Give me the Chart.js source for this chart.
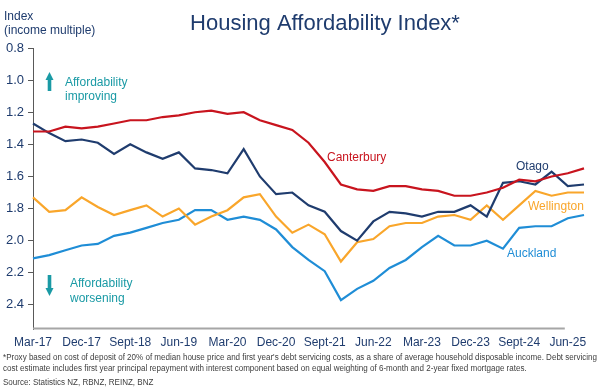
<!DOCTYPE html>
<html>
<head>
<meta charset="utf-8">
<script src="https://cdn.jsdelivr.net/npm/chart.js@4.4.1/dist/chart.umd.min.js"></script>
<style>
  html, body { margin: 0; padding: 0; background: #fff; }
  #wrap { position: relative; width: 600px; height: 391px; }
</style>
</head>
<body>
<div id="wrap"><canvas id="hai" width="600" height="391"></canvas></div>
<script>
const quarters = [
  "Mar-17", "Jun-17", "Sept-17", "Dec-17", "Mar-18", "Jun-18", "Sept-18", "Dec-18",
  "Mar-19", "Jun-19", "Sept-19", "Dec-19", "Mar-20", "Jun-20", "Sept-20", "Dec-20",
  "Mar-21", "Jun-21", "Sept-21", "Dec-21", "Mar-22", "Jun-22", "Sept-22", "Dec-22",
  "Mar-23", "Jun-23", "Sept-23", "Dec-23", "Mar-24", "Jun-24", "Sept-24", "Dec-24",
  "Mar-25", "Jun-25", "Sept-25"
];

const canterbury = [1.32, 1.32, 1.29, 1.30, 1.29, 1.27, 1.25, 1.25, 1.23, 1.22, 1.20, 1.19,
  1.21, 1.20, 1.25, 1.28, 1.31, 1.39, 1.51, 1.65, 1.68, 1.69, 1.66, 1.66,
  1.68, 1.69, 1.72, 1.72, 1.70, 1.67, 1.62, 1.63, 1.60, 1.58, 1.55];

const otago = [1.27, 1.33, 1.38, 1.37, 1.39, 1.46, 1.40, 1.45, 1.49, 1.45, 1.55, 1.56,
  1.58, 1.43, 1.60, 1.71, 1.70, 1.78, 1.82, 1.94, 2.00, 1.88, 1.82, 1.83,
  1.85, 1.82, 1.82, 1.78, 1.85, 1.64, 1.63, 1.65, 1.57, 1.66, 1.65];

const wellington = [1.73, 1.82, 1.81, 1.73, 1.79, 1.84, 1.81, 1.78, 1.85, 1.80, 1.90, 1.85,
  1.81, 1.73, 1.71, 1.85, 1.95, 1.90, 1.96, 2.13, 2.01, 1.99, 1.91, 1.89,
  1.89, 1.85, 1.84, 1.87, 1.78, 1.87, 1.78, 1.69, 1.72, 1.70, 1.70];

const auckland = [2.11, 2.09, 2.06, 2.03, 2.02, 1.97, 1.95, 1.92, 1.89, 1.87, 1.81, 1.81,
  1.87, 1.85, 1.87, 1.93, 2.04, 2.12, 2.19, 2.37, 2.30, 2.25, 2.17, 2.12,
  2.04, 1.97, 2.03, 2.03, 2.00, 2.05, 1.92, 1.91, 1.91, 1.86, 1.84];

const yTicks = [0.8, 1.0, 1.2, 1.4, 1.6, 1.8, 2.0, 2.2, 2.4];

const NAVY = "#1f3c6e";
const TEAL = "#1a9aa5";
const FONT = "'Liberation Sans', Arial, sans-serif";

const footnotes = [
  "*Proxy based on cost of deposit of 20% of median house price and first year's debt servicing costs, as a share of average household disposable income. Debt servicing",
  "cost estimate includes first year principal repayment with interest component based on equal weighting of 6-month and 2-year fixed mortgage rates.",
  "Source: Statistics NZ, RBNZ, REINZ, BNZ"
];

function series(label, data, color) {
  return {
    label,
    data,
    borderColor: color,
    backgroundColor: color,
    borderWidth: 2.2,
    pointRadius: 0,
    tension: 0,
    fill: false,
  };
}

function drawArrow(ctx, x, tipY, tailY) {
  const dir = tailY > tipY ? 1 : -1;
  const headLen = 8;
  ctx.beginPath();
  ctx.moveTo(x, tipY);
  ctx.lineTo(x + 4, tipY + dir * headLen);
  ctx.lineTo(x + 1.8, tipY + dir * headLen);
  ctx.lineTo(x + 1.8, tailY);
  ctx.lineTo(x - 1.8, tailY);
  ctx.lineTo(x - 1.8, tipY + dir * headLen);
  ctx.lineTo(x - 4, tipY + dir * headLen);
  ctx.closePath();
  ctx.fill();
}

/* titles, notes, inline series labels and the short x axis line */
const textPlugin = {
  id: "chartText",
  afterDraw(chart) {
    const ctx = chart.ctx;
    const area = chart.chartArea;
    const xs = chart.scales.x;
    ctx.save();

    ctx.strokeStyle = "#a6a6a6";
    ctx.lineWidth = 2;
    ctx.beginPath();
    ctx.moveTo(area.left, area.bottom - 0.5);
    ctx.lineTo(xs.getPixelForValue(33) - 3, area.bottom - 0.5);
    ctx.stroke();

    ctx.textBaseline = "alphabetic";
    ctx.fillStyle = NAVY;
    ctx.textAlign = "center";
    ctx.font = "22px " + FONT;
    ctx.fillText("Housing Affordability Index*", 325, 30);

    ctx.textAlign = "left";
    ctx.font = "12px " + FONT;
    ctx.fillText("Index", 4, 20);
    ctx.fillText("(income multiple)", 4, 34);

    ctx.fillStyle = TEAL;
    drawArrow(ctx, 49.5, 72, 91);
    drawArrow(ctx, 49.5, 296, 275);
    ctx.fillText("Affordability", 65, 86);
    ctx.fillText("improving", 65, 100);
    ctx.fillText("Affordability", 70, 287);
    ctx.fillText("worsening", 70, 302);

    ctx.fillStyle = "#c8141e";
    ctx.fillText("Canterbury", 327, 161);
    ctx.fillStyle = NAVY;
    ctx.fillText("Otago", 516, 170);
    ctx.fillStyle = "#f9a62b";
    ctx.fillText("Wellington", 528, 210);
    ctx.fillStyle = "#1f8dd6";
    ctx.fillText("Auckland", 507, 257);

    // footnote is set condensed, so squeeze it to the same width as the original
    ctx.fillStyle = "#404040";
    ctx.font = "8.5px " + FONT;
    const sx = 594 / ctx.measureText(footnotes[0]).width;
    ctx.translate(3, 0);
    ctx.scale(sx, 1);
    ctx.fillText(footnotes[0], 0, 360);
    ctx.fillText(footnotes[1], 0, 371);
    ctx.fillText(footnotes[2], 0, 385);

    ctx.restore();
  },
};

function drawChart() {
  const ctx = document.getElementById("hai").getContext("2d");

  new Chart(ctx, {
    type: "line",
    data: {
      labels: quarters,
      datasets: [
        series("Canterbury", canterbury, "#c8141e"),
        series("Otago", otago, NAVY),
        series("Wellington", wellington, "#f9a62b"),
        series("Auckland", auckland, "#1f8dd6"),
      ],
    },
    options: {
      responsive: false,
      animation: false,
      devicePixelRatio: 1,
      layout: { padding: { top: 48, right: 16, bottom: 0, left: 0 } },
      plugins: {
        legend: { display: false },
        tooltip: { enabled: false },
      },
      scales: {
        x: {
          grid: { display: false, drawTicks: false },
          border: { display: false },
          ticks: {
            autoSkip: false,
            maxRotation: 0,
            padding: 6,
            color: NAVY,
            font: { family: FONT, size: 12 },
            callback: (v, i) => (i % 3 === 0 ? quarters[i] : null),
          },
          afterFit: s => { s.height = 62; },
        },
        y: {
          reverse: true,
          min: 0.8,
          max: 2.55,
          afterBuildTicks: s => { s.ticks = yTicks.map(v => ({ value: v })); },
          afterFit: s => { s.width = 33; },
          grid: {
            drawOnChartArea: false,
            drawTicks: true,
            tickLength: 5,
            color: "#595959",
          },
          border: { display: true, color: "#595959", width: 1 },
          ticks: {
            padding: 4,
            color: NAVY,
            font: { family: FONT, size: 13 },
            callback: v => v.toFixed(1),
          },
        },
      },
    },
    plugins: [textPlugin],
  });
}

document.addEventListener("DOMContentLoaded", drawChart);
</script>
</body>
</html>
